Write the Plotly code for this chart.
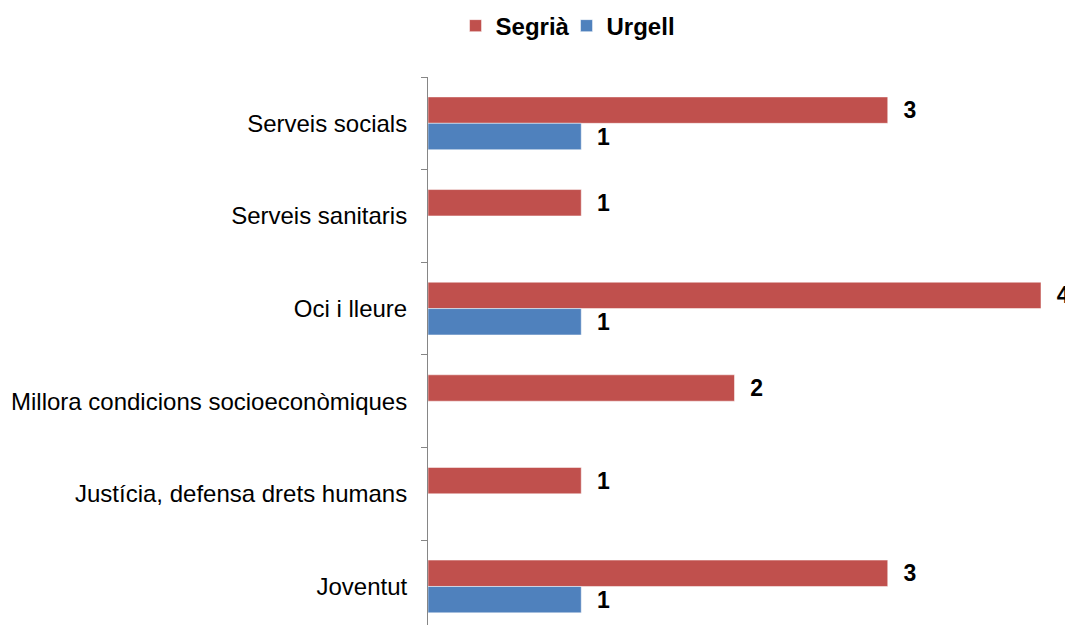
import plotly.graph_objects as go

categories = [
    "Serveis socials",
    "Serveis sanitaris",
    "Oci i lleure",
    "Millora condicions socioeconòmiques",
    "Justícia, defensa drets humans",
    "Joventut",
]
segria = [3, 1, 4, 2, 1, 3]
urgell = [1, None, 1, None, None, 1]

RED = "#C0504D"
BLUE = "#4F81BD"
FONT = "Arial, Liberation Sans, sans-serif"

def labels(vals):
    return ["\u00a0\u00a0" + str(v) if v is not None else "" for v in vals]

fig = go.Figure()
fig.add_trace(go.Bar(
    name="Segrià", y=categories, x=segria, orientation="h",
    marker=dict(color=RED, line=dict(color="rgba(255,255,255,0.5)", width=1)),
    text=labels(segria), textposition="outside", cliponaxis=False,
    textfont=dict(family=FONT, size=23, color="black", weight="bold"),
))
fig.add_trace(go.Bar(
    name="Urgell", y=categories, x=urgell, orientation="h",
    marker=dict(color=BLUE, line=dict(color="rgba(255,255,255,0.5)", width=1)),
    text=labels(urgell), textposition="outside", cliponaxis=False,
    textfont=dict(family=FONT, size=23, color="black", weight="bold"),
))

fig.update_layout(
    width=1065, height=617,
    margin=dict(l=420, r=32, t=69, b=0, pad=0, autoexpand=False),
    paper_bgcolor="white", plot_bgcolor="white",
    barmode="group", bargap=0.43, bargroupgap=0,
    font=dict(family=FONT, size=24, color="black"),
    showlegend=True,
    legend=dict(
        orientation="h", x=0.226, xanchor="center",
        y=1.093, yanchor="middle",
        font=dict(family=FONT, size=24, color="black", weight="bold"),
        itemwidth=30, traceorder="normal",
        entrywidth=66, entrywidthmode="pixels",
    ),
)
fig.update_xaxes(range=[0, 4], visible=False, showgrid=False, zeroline=False)
fig.update_yaxes(
    range=[5.416, -0.5], type="category", automargin=False,
    showline=True, linecolor="#868686", linewidth=1,
    ticks="outside", tickson="boundaries", ticklen=6, tickcolor="#868686", tickwidth=1,
    ticklabelstandoff=15,
    showgrid=False, zeroline=False,
    tickfont=dict(family=FONT, size=24, color="black"),
)

fig.write_html("out.html")
